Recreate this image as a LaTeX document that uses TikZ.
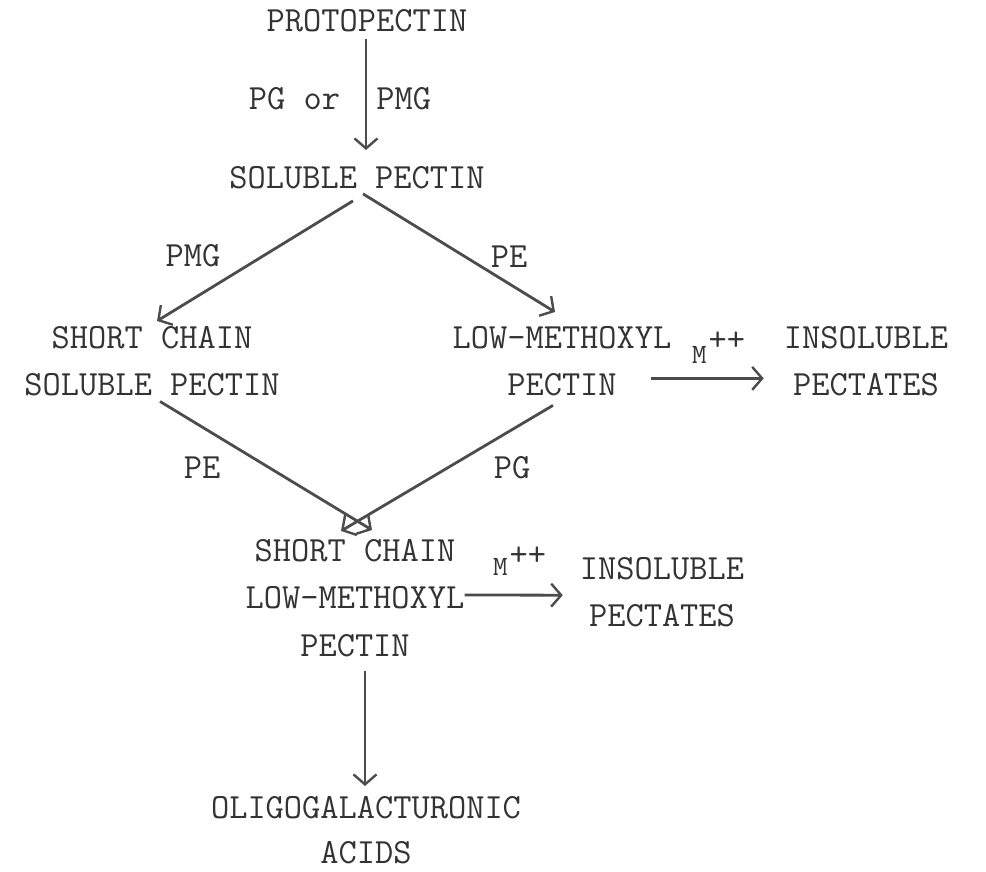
\documentclass[tikz,border=0pt]{standalone}
\usepackage{fontspec}
\usetikzlibrary{arrows.meta,calc}
\definecolor{ink}{gray}{0.2}
\definecolor{rule}{gray}{0.3}
\begin{document}
\begin{tikzpicture}[x=1pt,y=-1pt,
  txt/.style={font=\ttfamily\fontsize{35.4}{47.5}\selectfont, text=ink,
    inner sep=0pt, align=center, anchor=north},
  lbl/.style={font=\ttfamily\fontsize{35.4}{35.4}\selectfont, text=ink, inner sep=0pt},
  arr/.style={draw=rule, line width=2.8pt,
    -{Straight Barb[length=10pt,width=23pt,line width=2.4pt]}},
]
\useasboundingbox (0,0) rectangle (986,872);

% compounds
\node[txt] (proto) at (367,9)   {PROTOPECTIN};
\node[txt] (sol)   at (357,166) {SOLUBLE PECTIN};
\node[txt] (scsp)  at (152,326) {SHORT CHAIN\\SOLUBLE PECTIN};
\node[txt] (lmp)   at (562,326) {LOW-METHOXYL\\PECTIN};
\node[txt] (ins1)  at (866,326) {INSOLUBLE\\PECTATES};
\node[txt] (sclm)  at (355,539) {SHORT CHAIN\\LOW-METHOXYL\\PECTIN};
\node[txt] (ins2)  at (662,557) {INSOLUBLE\\PECTATES};
\node[txt, font=\ttfamily\fontsize{35.4}{45.5}\selectfont] (oligo) at (366,796)
  {OLIGOGALACTURONIC\\ACIDS};

% enzyme and ion labels
\node[lbl] (lpgpmg) at (340,99)  {PG or~~PMG};
\node[lbl] (lpmg)   at (193,256) {PMG};
\node[lbl] (lpe1)   at (509,257) {PE};
\node[lbl] (lpe2)   at (202,468) {PE};
\node[lbl] (lpg)    at (512,468) {PG};
\node[lbl, anchor=base west] (m1) at (692,363)
  {{\fontsize{28}{28}\selectfont M}\kern2pt\raisebox{13pt}{++}};
\node[lbl, anchor=base west] (m2) at (493,575)
  {{\fontsize{28}{28}\selectfont M}\kern2pt\raisebox{10pt}{++}};

% reactions
\draw[arr] ($(proto.south)+(-1,7)$) -- ($(sol.north)+(9,-16)$);
\draw[arr] ($(sol.south)+(-4,12)$) -- ($(scsp.north)+(5,-5)$);
\draw[arr] ($(sol.south)+(6,5)$) -- ($(lmp.north)+(-7,-14)$);
\draw[arr] ($(lmp.south east)+(-21,-18)$) -- ($(ins1.south west)+(-20,-18)$);
\draw[arr] ($(scsp.south)+(8,5)$) -- ($(sclm.north)+(17,-9)$);
\draw[arr] ($(lmp.south)+(-9,9)$) -- ($(sclm.north)+(-14,-8)$);
\draw[arr] ($(sclm.east)+(0,-3)$) -- ($(ins2.west)+(-17,3)$);
\draw[arr] ($(sclm.south)+(10,14)$) -- ($(oligo.north)+(-1,-10)$);
\end{tikzpicture}
\end{document}
